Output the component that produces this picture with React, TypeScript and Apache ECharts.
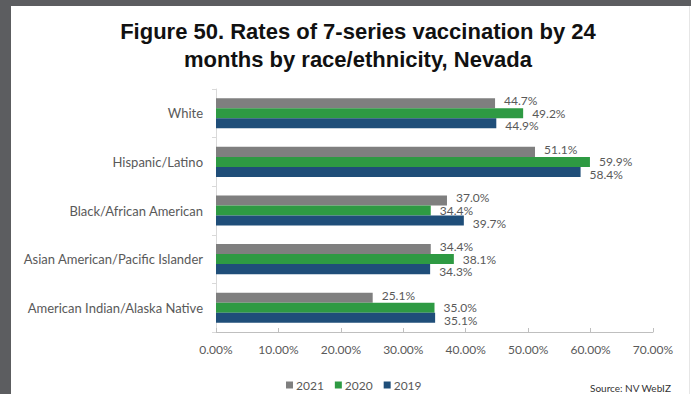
import React, { useEffect, useRef } from "react";
import * as echarts from "echarts";

const categories = [
  "White",
  "Hispanic/Latino",
  "Black/African American",
  "Asian American/Pacific Islander",
  "American Indian/Alaska Native",
];
const seriesNames = ["2021", "2020", "2019"];
const values2021 = [44.7, 51.1, 37.0, 34.4, 25.1];
const values2020 = [49.2, 59.9, 34.4, 38.1, 35.0];
const values2019 = [44.9, 58.4, 39.7, 34.3, 35.1];
const colors = ["#7f7f7f", "#2e9a43", "#1f4e79"];
const xTicks = { min: 0, max: 70, interval: 10 };

export default function App() {
  const ref = useRef<HTMLDivElement>(null);
  useEffect(() => {
    if (!ref.current) return;
    const chart = echarts.init(ref.current, null, { renderer: "svg" });
    const seriesData = [values2021, values2020, values2019];
    const labelOffsets = [[0, -2.5], [0, 0], [0, 2.5]];
    const labelColor = "#595959";
    chart.setOption({
      animation: false,
      backgroundColor: "#ffffff",
      textStyle: { fontFamily: "Lato" },
      title: {
        text: "Figure 50. Rates of 7-series vaccination by 24\nmonths by race/ethnicity, Nevada",
        left: 353,
        top: 12,
        textAlign: "center",
        textStyle: {
          fontFamily: "Liberation Sans",
          fontWeight: "bold",
          fontSize: 22,
          lineHeight: 28,
          color: "#111111",
        },
      },
      legend: {
        data: seriesNames,
        left: 281,
        top: 374,
        icon: "rect",
        itemWidth: 7,
        itemHeight: 7,
        itemGap: 11,
        textStyle: { color: labelColor, fontSize: 12, fontFamily: "Lato", padding: [0, 0, 0, -2] },
      },
      grid: { left: 216, right: 38, top: 89, bottom: 62, containLabel: false },
      xAxis: {
        type: "value",
        min: xTicks.min,
        max: xTicks.max,
        interval: xTicks.interval,
        axisLine: { show: true, lineStyle: { color: "#bfbfbf" } },
        axisTick: { show: true, inside: true, length: 4, lineStyle: { color: "#bfbfbf" } },
        splitLine: { show: false },
        axisLabel: {
          color: labelColor,
          fontSize: 12,
          margin: 11,
          formatter: (v: number) => v.toFixed(2) + "%",
        },
      },
      yAxis: {
        type: "category",
        data: categories,
        inverse: true,
        axisLine: { show: true, lineStyle: { color: "#d9d9d9" } },
        axisTick: { show: true, length: 4, lineStyle: { color: "#d9d9d9" } },
        axisLabel: { color: labelColor, fontSize: 13, margin: 13 },
      },
      series: seriesNames.map((name, i) => ({
        name,
        type: "bar",
        data: seriesData[i],
        barGap: "0%",
        barCategoryGap: "38%",
        itemStyle: { color: colors[i] },
        label: {
          show: true,
          position: "right",
          distance: 9,
          offset: labelOffsets[i],
          color: labelColor,
          fontSize: 12,
          lineHeight: 12,
          formatter: (p: any) => Number(p.value).toFixed(1) + "%",
        },
      })),
      graphic: [
        { type: "rect", left: 0, top: 0, shape: { width: 11, height: 394 }, style: { fill: "#5c5d60" }, silent: true },
        { type: "rect", left: 0, top: 0, shape: { width: 691, height: 6 }, style: { fill: "#5c5d60" }, silent: true },
        { type: "rect", left: 689, top: 6, shape: { width: 1, height: 388 }, style: { fill: "#e6e6e6" }, silent: true },
        {
          type: "text",
          left: 590,
          top: 383,
          style: { text: "Source: NV WebIZ", fill: "#333333", font: "10px Lato" },
          silent: true,
        },
      ],
    });
    return () => chart.dispose();
  }, []);
  return (
    <div
      ref={ref}
      style={{ position: "fixed", left: 0, top: 0, width: 691, height: 394 }}
    />
  );
}
